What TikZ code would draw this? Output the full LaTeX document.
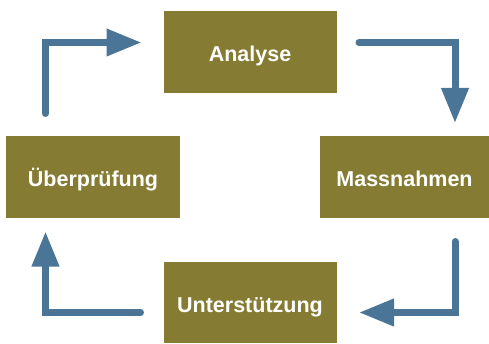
\documentclass[tikz,border=0pt]{standalone}
\usepackage{fontspec}
\setmainfont{Liberation Sans}
\usetikzlibrary{arrows.meta}
\definecolor{boxcol}{HTML}{857B32}
\definecolor{arrowcol}{HTML}{4A7596}
\tikzset{
	stage/.style={fill=boxcol,text=white,font=\bfseries\fontsize{21.5}{24}\selectfont,
		minimum width=173pt,minimum height=82pt,inner sep=0pt,
		text height=19.5pt,text depth=0pt},
	turn/.style={draw=arrowcol,line width=7pt,line cap=round,
		-{Triangle[length=35pt,width=26pt]}}
}
\begin{document}
\begin{tikzpicture}[x=1pt,y=1pt]
			\useasboundingbox (0,0) rectangle (489,343);
			\node[stage] (analyse) at (250,291) {Analyse};
			\node[stage,minimum width=169pt] (mass) at (404.5,166) {Massnahmen};
			\node[stage,minimum width=174pt] (uber) at (93,166) {Überprüfung};
			\node[stage,minimum height=81pt] (unter) at (250,40.5) {Unterstützung};
			% free ends of the four turns
			\coordinate (a1) at (45.5,229.5);
			\coordinate (a2) at (359,300.5);
			\coordinate (a3) at (455,101.5);
			\coordinate (a4) at (140.5,30.5);
			\coordinate (b1) at (141.5,300.5);
			\coordinate (b2) at (455,220);
			\coordinate (b3) at (359,30.5);
			\coordinate (b4) at (45.5,111.5);
			\draw[turn] (a1) |- (b1);
			\draw[turn] (a2) -| (b2);
			\draw[turn] (a3) |- (b3);
			\draw[turn] (a4) -| (b4);
	\end{tikzpicture}
\end{document}
